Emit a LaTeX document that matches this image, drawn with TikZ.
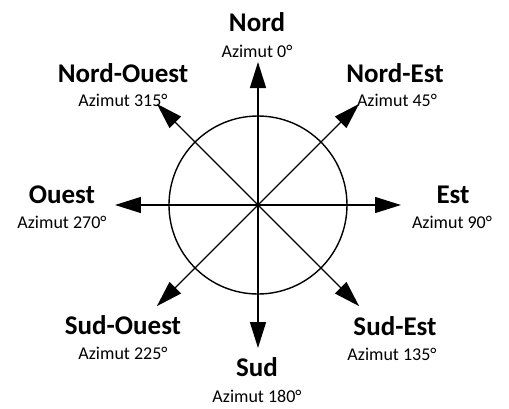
\documentclass[tikz,border=0pt]{standalone}
\usepackage{fontspec}
\setmainfont{Carlito}
\usepackage{tikz}
\usetikzlibrary{arrows.meta}

\tikzset{
  dirarrow/.style={-{Triangle[length=26pt,width=16pt]}, line width=1.4pt},
  dirname/.style={anchor=base, font=\fontsize{27}{30}\selectfont\bfseries, inner sep=0pt},
  azimut/.style={anchor=base, font=\fontsize{18}{20}\selectfont, inner sep=0pt}
}

\begin{document}
\begin{tikzpicture}[x=1pt,y=1pt]
        \useasboundingbox (-258,-203) rectangle (251,205);

        \coordinate (O) at (0,0);
        \coordinate (tipN) at (0,143);
        \coordinate (tipS) at (0,-143);
        \coordinate (tipE) at (143,0);
        \coordinate (tipW) at (-143,0);
        \coordinate (tipNE) at (45:143);
        \coordinate (tipNW) at (135:143);
        \coordinate (tipSW) at (225:143);
        \coordinate (tipSE) at (315:143);

        \draw [line width=1.4pt] (O) circle (89);

        \draw [dirarrow] (O) -- (tipN);
        \draw [dirarrow] (O) -- (tipS);
        \draw [dirarrow] (O) -- (tipE);
        \draw [dirarrow] (O) -- (tipW);
        \draw [dirarrow] (O) -- (tipNE);
        \draw [dirarrow] (O) -- (tipNW);
        \draw [dirarrow] (O) -- (tipSW);
        \draw [dirarrow] (O) -- (tipSE);

        \node [dirname] (nord) at (-1,174) {Nord};
        \node [azimut] (aznord) at (-1,148) {Azimut 0°};

        \node [dirname] (est) at (195,2) {Est};
        \node [azimut] (azest) at (194,-23) {Azimut 90°};

        \node [dirname] (sud) at (-1,-171) {Sud};
        \node [azimut] (azsud) at (-1,-197) {Azimut 180°};

        \node [dirname] (ouest) at (-196,2) {Ouest};
        \node [azimut] (azouest) at (-196,-23) {Azimut 270°};

        \node [dirname] (nordest) at (137,123) {Nord-Est};
        \node [azimut] (aznordest) at (139,99) {Azimut 45°};

        \node [dirname] (nordouest) at (-135,123) {Nord-Ouest};
        \node [azimut] (aznordouest) at (-135,99) {Azimut 315°};

        \node [dirname] (sudest) at (137,-130) {Sud-Est};
        \node [azimut] (azsudest) at (134,-155) {Azimut 135°};

        \node [dirname] (sudouest) at (-135,-129) {Sud-Ouest};
        \node [azimut] (azsudouest) at (-135,-154) {Azimut 225°};
\end{tikzpicture}
\end{document}
